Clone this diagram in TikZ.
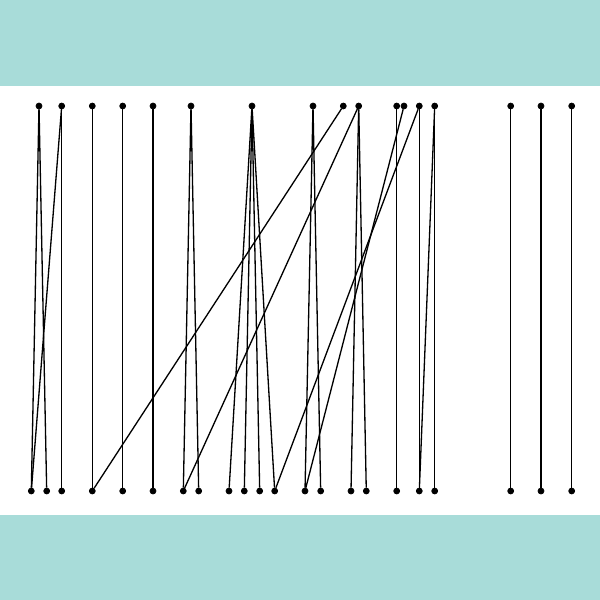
\documentclass[tikz,border=0pt]{standalone}
\usepackage{tikz}

\definecolor{bandcol}{RGB}{168,220,217}

\begin{document}
\begin{tikzpicture}[x=0.02cm, y=-0.02cm, dot/.style={draw,circle,fill,inner sep=0pt,minimum size=3.4pt}, link/.style={line width=0.75pt}]
\useasboundingbox (0,0) rectangle (600,600);
\fill[bandcol] (0,0) rectangle (600,86);
\fill[bandcol] (0,515) rectangle (600,600);
% top row
\node[dot] (t1) at (39,106) {};
\node[dot] (t2) at (61.7,106) {};
\node[dot] (t3) at (92.3,106) {};
\node[dot] (t4) at (122.7,106) {};
\node[dot] (t5) at (153,106) {};
\node[dot] (t6) at (191,106) {};
\node[dot] (t7) at (252,106) {};
\node[dot] (t8) at (313,106) {};
\node[dot] (t9) at (343.3,106) {};
\node[dot] (t10) at (358.7,106) {};
\node[dot] (t11) at (396.7,106) {};
\node[dot] (t12) at (404,106) {};
\node[dot] (t13) at (419.3,106) {};
\node[dot] (t14) at (434.7,106) {};
\node[dot] (t15) at (510.7,106) {};
\node[dot] (t16) at (541,106) {};
\node[dot] (t17) at (571.7,106) {};
% bottom row
\node[dot] (b1) at (31.3,491) {};
\node[dot] (b2) at (46.7,491) {};
\node[dot] (b3) at (61.7,491) {};
\node[dot] (b4) at (92.3,491) {};
\node[dot] (b5) at (122.7,491) {};
\node[dot] (b6) at (153,491) {};
\node[dot] (b7) at (183.3,491) {};
\node[dot] (b8) at (198.7,491) {};
\node[dot] (b9) at (229,491) {};
\node[dot] (b10) at (244.3,491) {};
\node[dot] (b11) at (259.7,491) {};
\node[dot] (b12) at (274.7,491) {};
\node[dot] (b13) at (305,491) {};
\node[dot] (b14) at (320.7,491) {};
\node[dot] (b15) at (351,491) {};
\node[dot] (b16) at (366.3,491) {};
\node[dot] (b17) at (396.7,491) {};
\node[dot] (b18) at (419.3,491) {};
\node[dot] (b19) at (434.7,491) {};
\node[dot] (b20) at (510.7,491) {};
\node[dot] (b21) at (541,491) {};
\node[dot] (b22) at (571.7,491) {};
% links
\draw[link] (t1) -- (b1);
\draw[link] (t1) -- (b2);
\draw[link] (t2) -- (b1);
\draw[link] (t2) -- (b3);
\draw[link] (t3) -- (b4);
\draw[link] (t4) -- (b5);
\draw[link] (t5) -- (b6);
\draw[link] (t6) -- (b7);
\draw[link] (t6) -- (b8);
\draw[link] (t7) -- (b9);
\draw[link] (t7) -- (b10);
\draw[link] (t7) -- (b11);
\draw[link] (t7) -- (b12);
\draw[link] (t8) -- (b13);
\draw[link] (t8) -- (b14);
\draw[link] (t9) -- (b4);
\draw[link] (t10) -- (b7);
\draw[link] (t10) -- (b15);
\draw[link] (t10) -- (b16);
\draw[link] (t11) -- (b17);
\draw[link] (t12) -- (b13);
\draw[link] (t13) -- (b12);
\draw[link] (t13) -- (b18);
\draw[link] (t14) -- (b18);
\draw[link] (t14) -- (b19);
\draw[link] (t15) -- (b20);
\draw[link] (t16) -- (b21);
\draw[link] (t17) -- (b22);
\end{tikzpicture}
\end{document}
